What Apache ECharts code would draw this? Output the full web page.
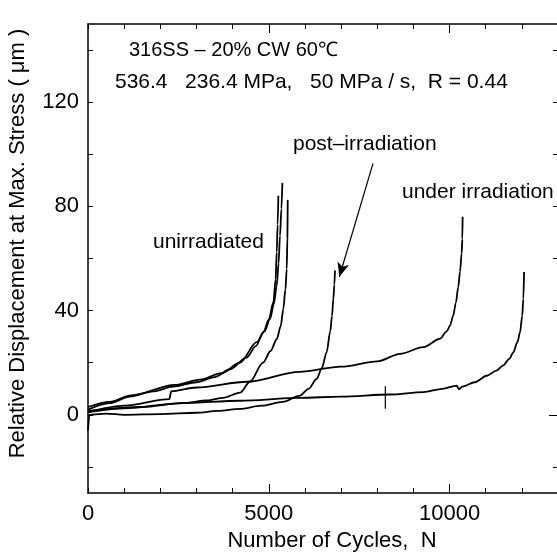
<!DOCTYPE html>
<html>
<head>
<meta charset="utf-8">
<script src="https://cdn.jsdelivr.net/npm/echarts@6/dist/echarts.min.js"></script>
<style>
  html, body { margin: 0; padding: 0; background: #fff; }
  #chart { width: 557px; height: 560px; }
</style>
</head>
<body>
<div id="chart"></div>
<script>
  // axis ticks / labels
  var cycleTicks = [0, 1000, 2000, 3000, 4000, 5000, 6000, 7000, 8000, 9000, 10000, 11000, 12000, 13000]
  var cycleMajor = [5000, 10000]
  var cycleLabels = [0, 5000, 10000]
  var dispTicks = [-20, 0, 20, 40, 60, 80, 100, 120, 140]
  var dispLabels = [0, 40, 80, 120]

  // [cycles N, displacement um]
  var unirradiated1 = [[0, 2], [600, 4.5], [1160, 7], [1800, 9], [2350, 10.8], [3000, 12.5], [3500, 14.5], [3930, 17.5],
    [4390, 22], [4650, 26.5], [4850, 31.7], [5000, 36.5], [5127, 43.2], [5190, 52], [5220, 62.4], [5245, 73], [5265, 84.1]]
  var unirradiated2 = [[0, 3], [600, 5], [1200, 7.5], [2400, 11.5], [3100, 13.5], [3700, 16], [4200, 20], [4666, 27.9],
    [4880, 32], [5035, 36.8], [5140, 42.5], [5220, 49.6], [5270, 58], [5311, 68.8], [5350, 79], [5376, 89]]
  var unirradiated3 = [[0, 1.5], [1500, 3], [2600, 4.5], [3300, 5.5], [3730, 6.5], [4205, 8.5], [4481, 12.7], [4841, 20],
    [5050, 24.5], [5220, 29], [5330, 34], [5403, 40.7], [5460, 48], [5497, 56], [5515, 68], [5524, 82.5]]
  var postIrradiation = [[0, -6], [40, 0], [500, 0.5], [1000, 0], [2000, 0.3], [3000, 0.8], [3600, 1.5], [4200, 2.3],
    [4800, 3.5], [5390, 5], [5865, 7.4], [6100, 10], [6326, 13.8], [6470, 18], [6600, 24], [6700, 32], [6750, 38],
    [6786, 44.6], [6815, 50], [6832, 55.4]]
  var underIrradiation1 = [[0, 1], [1000, 3.5], [2250, 6], [2300, 9], [3000, 10.5], [4400, 12.7], [5850, 16.5],
    [7000, 18.5], [8000, 20.5], [8631, 23.4], [9276, 26], [9737, 29.2], [9922, 32], [10014, 34.3], [10100, 38],
    [10175, 43], [10240, 49], [10290, 55], [10335, 62], [10354, 67.5], [10362, 76]]
  var underIrradiation2 = [[0, 1], [1000, 2.5], [2600, 4.5], [4200, 5.4], [5850, 6.5], [7000, 7], [8354, 7.8],
    [9276, 8.7], [9800, 10], [10199, 11.2], [10260, 9.8], [10350, 10.8], [10700, 12.5], [11029, 15], [11300, 17],
    [11488, 19], [11650, 21.5], [11765, 24], [11880, 28], [11950, 31.7], [12010, 38], [12042, 44.5], [12061, 54.8]]
  var markerTick = [[8224, 2.3], [8224, 11]]
  // arrow pointing to the post-irradiation curve
  var arrowFrom = [7884, 96.5]
  var arrowTo = [6952, 53]

  var font = 'Liberation Sans, Arial, sans-serif'

  function curve(name, data, extra) {
    var s = {
      name: name,
      type: 'line',
      data: data,
      xAxisIndex: 0,
      yAxisIndex: 0,
      showSymbol: false,
      smooth: 0.3,
      smoothMonotone: 'x',
      silent: true,
      lineStyle: { color: '#000', width: 1.8 }
    }
    return Object.assign(s, extra || {})
  }

  function plain(v) {
    return String(v)
  }

  function xAxisOf(pos, ticks, len, showLine, showLabel) {
    return {
      type: 'value', position: pos, min: 0, max: 13000,
      axisLine: { show: showLine, onZero: false, lineStyle: { color: '#000', width: 1.5 } },
      axisTick: { show: true, inside: true, length: len, customValues: ticks, lineStyle: { color: '#000', width: 1 } },
      axisLabel: { show: showLabel, customValues: cycleLabels, formatter: plain, color: '#000', fontSize: 22, fontFamily: font, margin: 10 },
      splitLine: { show: false }
    }
  }

  function yAxisOf(pos, ticks, len, showLine, showLabel) {
    return {
      type: 'value', position: pos, min: -30, max: 150,
      axisLine: { show: showLine, onZero: false, lineStyle: { color: '#000', width: 1.5 } },
      axisTick: { show: true, inside: true, length: len, customValues: ticks, lineStyle: { color: '#000', width: 1 } },
      axisLabel: { show: showLabel, customValues: dispLabels, formatter: plain, color: '#000', fontSize: 22, fontFamily: font, margin: 9 },
      splitLine: { show: false }
    }
  }

  var xMain = xAxisOf('bottom', cycleTicks, 5, true, true)
  xMain.name = 'Number of Cycles,  N'
  xMain.nameLocation = 'middle'
  xMain.nameGap = 34
  xMain.nameTextStyle = { color: '#000', fontSize: 22, fontFamily: font, padding: [0, 0, 0, 18] }

  var yMain = yAxisOf('left', dispTicks, 5, true, true)
  yMain.name = 'Relative Displacement at Max. Stress ( μm )'
  yMain.nameLocation = 'middle'
  yMain.nameGap = 59
  yMain.nameTextStyle = { color: '#000', fontSize: 22, fontFamily: font, padding: [0, 0, 0, 30] }

  var chart = echarts.init(document.getElementById('chart'))
  chart.setOption({
    backgroundColor: '#fff',
    animation: false,
    grid: { left: 88, top: 24, width: 470, height: 469, containLabel: false, outerBoundsMode: 'none' },
    xAxis: [
      xMain,
      xAxisOf('bottom', cycleMajor, 9, false, false),
      xAxisOf('top', cycleTicks, 5, true, false),
      xAxisOf('top', cycleMajor, 9, false, false)
    ],
    yAxis: [
      yMain,
      yAxisOf('right', dispTicks, 5, true, false),
      yAxisOf('right', [0], 9, false, false)
    ],
    series: [
      curve('unirradiated 1', unirradiated1),
      curve('unirradiated 2', unirradiated2),
      curve('unirradiated 3', unirradiated3),
      curve('post-irradiation', postIrradiation, {
        markLine: {
          silent: true,
          symbol: ['none', 'arrow'],
          symbolSize: [9, 14],
          label: { show: false },
          lineStyle: { color: '#000', width: 1.2, type: 'solid' },
          data: [[{ coord: arrowFrom }, { coord: arrowTo }]]
        }
      }),
      curve('under irradiation 1', underIrradiation1),
      curve('under irradiation 2', underIrradiation2),
      curve('marker', markerTick, { smooth: false, lineStyle: { color: '#000', width: 1.2 } })
    ],
    graphic: [
      { type: 'text', left: 129, top: 40, style: { text: '316SS – 20% CW 60℃', fontSize: 20, fontFamily: font, fill: '#000' } },
      { type: 'text', left: 115, top: 72, style: { text: '536.4   236.4 MPa,   50 MPa / s,  R = 0.44', fontSize: 21, fontFamily: font, fill: '#000' } },
      { type: 'text', left: 293, top: 134, style: { text: 'post–irradiation', fontSize: 21, fontFamily: font, fill: '#000' } },
      { type: 'text', left: 402, top: 182, style: { text: 'under irradiation', fontSize: 21, fontFamily: font, fill: '#000' } },
      { type: 'text', left: 153, top: 232, style: { text: 'unirradiated', fontSize: 21, fontFamily: font, fill: '#000' } }
    ]
  })
</script>
</body>
</html>
